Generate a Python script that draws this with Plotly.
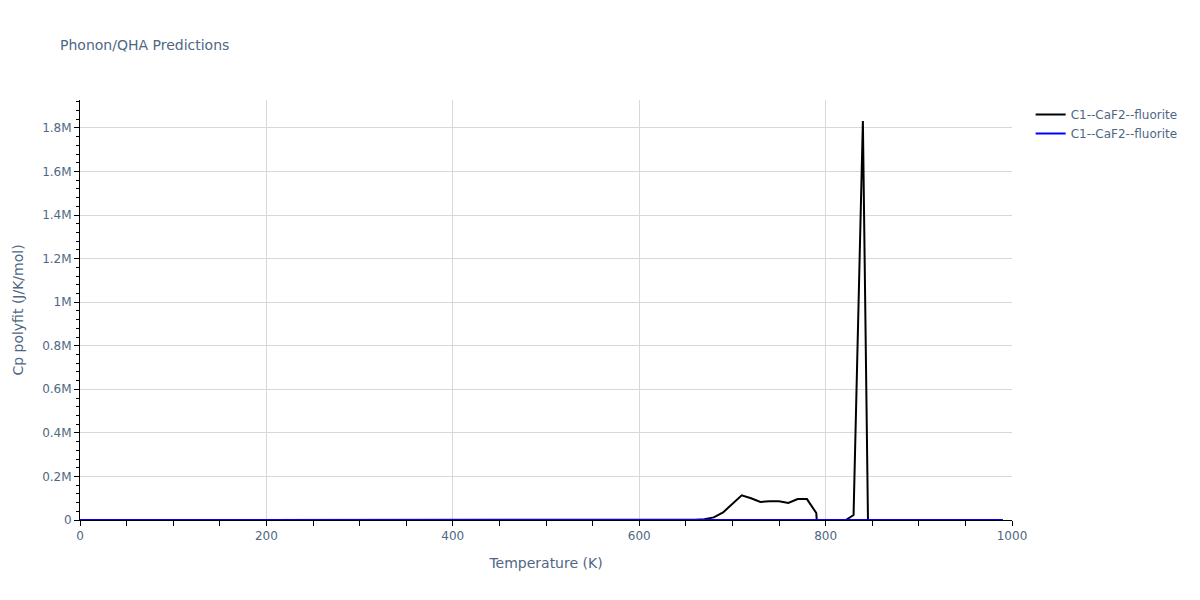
import plotly.graph_objects as go

temperature = [
    0, 10, 20, 30, 40, 50, 60, 70, 80, 90,
    100, 110, 120, 130, 140, 150, 160, 170, 180, 190,
    200, 210, 220, 230, 240, 250, 260, 270, 280, 290,
    300, 310, 320, 330, 340, 350, 360, 370, 380, 390,
    400, 410, 420, 430, 440, 450, 460, 470, 480, 490,
    500, 510, 520, 530, 540, 550, 560, 570, 580, 590,
    600, 610, 620, 630, 640, 650, 660, 670, 680, 690,
    700, 710, 720, 730, 740, 750, 760, 770, 780, 790,
    800, 810, 820, 830, 840, 850, 860, 870, 880, 890,
    900, 910, 920, 930, 940, 950, 960, 970, 980, 990,
]

cp_black = [
    0, 0, 0, 0, 0, 0, 0, 0, 0, 0,
    0, 0, 0, 0, 0, 0, 0, 0, 0, 0,
    0, 0, 0, 0, 0, 0, 0, 0, 0, 0,
    0, 0, 0, 0, 0, 0, 0, 0, 0, 0,
    0, 0, 0, 0, 0, 0, 0, 0, 0, 0,
    0, 0, 0, 0, 0, 0, 0, 0, 0, 0,
    0, 0, 0, 0, 0, 0, 1000, 4000, 12000, 35000,
    73000, 113000, 100000, 83000, 86000, 86000, 78000, 96000, 96000, 32000,
    -600000, -50000, -5000, 23000, 1832000, -1520000, 0, 0, 0, 0,
    0, 0, 0, 0, 0, 0, 0, 0, 0, 0,
]

cp_blue = [
    0, 0, 0, 0, 0, 0, 0, 0, 0, 0,
    0, 0, 0, 0, 0, 0, 0, 0, 0, 0,
    0, 0, 0, 0, 0, 0, 0, 0, 0, 0,
    0, 0, 0, 0, 0, 0, 0, 0, 0, 0,
    0, 0, 0, 0, 0, 0, 0, 0, 0, 0,
    0, 0, 0, 0, 0, 0, 0, 0, 0, 0,
    0, 0, 0, 0, 0, 0, 0, 0, 0, 0,
    0, 0, 0, 0, 0, 0, 0, 0, 0, 0,
    0, 0, 0, 0, 0, 0, 0, 0, 0, 0,
    0, 0, 0, 0, 0, 0, 0, 0, 0, 0,
]

series_names = ["C1--CaF2--fluorite", "C1--CaF2--fluorite"]
series_colors = ["black", "blue"]

fig = go.Figure()
fig.add_trace(go.Scatter(x=temperature, y=cp_black, mode="lines", name=series_names[0],
                         line=dict(color=series_colors[0], width=2)))
fig.add_trace(go.Scatter(x=temperature, y=cp_blue, mode="lines", name=series_names[1],
                         line=dict(color=series_colors[1], width=2)))

font_color = "#506784"
fig.update_layout(
    width=1200, height=600,
    title=dict(text="Phonon/QHA Predictions", x=0.05, font=dict(size=14, color=font_color)),
    paper_bgcolor="white", plot_bgcolor="white",
    font=dict(family="DejaVu Sans, Verdana, sans-serif", size=12, color=font_color),
    margin=dict(l=80, r=188, t=100, b=80),
    legend=dict(x=1.02, y=1, xanchor="left", yanchor="top", font=dict(size=12)),
    showlegend=True,
)
fig.update_xaxes(
    title=dict(text="Temperature (K)", font=dict(size=14)),
    range=[0, 1000], dtick=200, showgrid=True, gridcolor="#d8d8d8",
    showline=True, linecolor="black", linewidth=1, zeroline=False,
    ticks="outside", ticklen=5, tickcolor="black",
    minor=dict(dtick=50, ticks="outside", ticklen=5, tickcolor="black", showgrid=False),
)
fig.update_yaxes(
    title=dict(text="Cp polyfit (J/K/mol)", font=dict(size=14)),
    range=[0, 1928000], dtick=200000, showgrid=True, gridcolor="#d8d8d8",
    showline=True, linecolor="black", linewidth=1, zeroline=False,
    ticks="outside", ticklen=5, tickcolor="black",
    minor=dict(dtick=40000, ticks="outside", ticklen=3, tickcolor="black", showgrid=False),
)

fig.write_html("out.html", config={"displayModeBar": False},
               post_script="document.body.style.margin='0px';")
